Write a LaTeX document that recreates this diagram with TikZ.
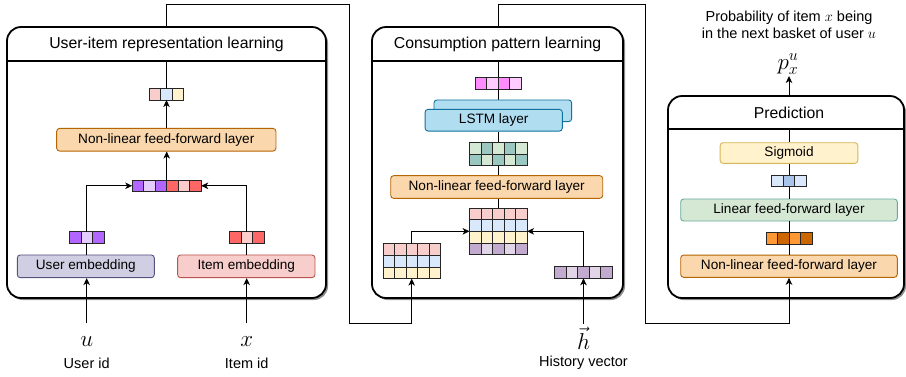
\RequirePackage{fix-cm}
\documentclass[tikz,border=0pt]{standalone}
\usepackage{fontspec}
\setmainfont{Liberation Sans}
\usetikzlibrary{arrows.meta,calc,shadows}

\definecolor{nlffF}{HTML}{FAD7AC}\definecolor{nlffD}{HTML}{B46504}
\definecolor{ueF}{HTML}{D0CEE2}\definecolor{ueD}{HTML}{56517E}
\definecolor{ieF}{HTML}{F8CECC}\definecolor{ieD}{HTML}{B85450}
\definecolor{lstmF}{HTML}{B1DDF0}\definecolor{lstmD}{HTML}{10739E}
\definecolor{sigF}{HTML}{FFF2CC}\definecolor{sigD}{HTML}{D6B656}
\definecolor{linF}{HTML}{D5E8D4}\definecolor{linD}{HTML}{67AB9F}
\definecolor{cpink}{HTML}{F8CECC}\definecolor{cblue}{HTML}{DAE8FC}
\definecolor{cyellow}{HTML}{FFF2CC}\definecolor{cblueM}{HTML}{A9C4EB}
\definecolor{cpurD}{HTML}{B266FF}\definecolor{cpurL}{HTML}{E5CCFF}
\definecolor{credD}{HTML}{FF6666}\definecolor{credL}{HTML}{FFCCCC}
\definecolor{cmagD}{HTML}{FF8CFF}\definecolor{cmagL}{HTML}{FFCCFF}
\definecolor{cgrL}{HTML}{D5E8D4}\definecolor{cgrD}{HTML}{9AC7BF}
\definecolor{cpD}{HTML}{C3ABD0}\definecolor{cpL}{HTML}{E1D5E7}
\definecolor{corL}{HTML}{FF9933}\definecolor{corD}{HTML}{CC6600}

\newcommand\myboxfont{\fontsize{13.6}{16.6}\selectfont}
\newcommand\mylblfont{\fontsize{14.5}{16.6}\selectfont}
\newcommand\mytitlefont{\fontsize{15.8}{18}\selectfont}
\newcommand\mymathfont{\fontsize{23}{25}\selectfont}
\def\cellw{11.5}
\def\cellh{11.6}

\tikzset{
  conn/.style={line width=0.9pt, draw=black},
  arr/.style={-{Stealth[length=7pt,width=6.5pt,inset=2pt]}},
  panelbox/.style={draw=black, line width=1.8pt, fill=white, rounded corners=14pt, inner sep=0pt,
    general shadow={fill=black!45, shadow xshift=2pt, shadow yshift=-2pt}},
  panelline/.style={draw=black, line width=1.8pt},
  layer/.style={draw, line width=0.9pt, rounded corners=3pt, inner sep=0pt, font=\myboxfont, text=black},
  cellbox/.style={draw=black!85, line width=0.8pt},
  lbl/.style={font=\mylblfont, inner sep=1pt},
  mlbl/.style={font=\mymathfont, inner sep=1pt},
}

\newcommand\cellgrid[5]{%
  \node[inner sep=0pt, outer sep=0pt, minimum width={#3*\cellw*1pt}, minimum height={#4*\cellh*1pt}] (#1) at #2 {};
  \foreach \cellcol [count=\cellk from 0] in {#5} {%
    \pgfmathtruncatemacro\cellr{div(\cellk,#3)}%
    \pgfmathtruncatemacro\cellc{mod(\cellk,#3)}%
    \draw[cellbox, fill=\cellcol] ($(#1.north west)+(\cellc*\cellw,\cellr*\cellh)$) rectangle ++(\cellw,\cellh);
  }%
}

\begin{document}
\begin{tikzpicture}[x=1pt,y=-1pt]
\useasboundingbox (0,0) rectangle (906,376);

% ---------- panels ----------
\node[panelbox, minimum width=319pt, minimum height=271pt] (LP) at (166.5,162.5) {};
\coordinate (LPs) at (0,61);
\draw[panelline] (LP.west |- LPs) -- (LP.east |- LPs);
\node[font=\mytitlefont] (LPt) at (166.5,44) {User-item representation learning};

\node[panelbox, minimum width=251pt, minimum height=271pt] (MP) at (497.5,162.5) {};
\coordinate (MPs) at (0,61);
\draw[panelline] (MP.west |- MPs) -- (MP.east |- MPs);
\node[font=\mytitlefont] (MPt) at (497.5,44) {Consumption pattern learning};

\node[panelbox, minimum width=236pt, minimum height=202pt] (RP) at (786,197) {};
\coordinate (RPs) at (0,129);
\draw[panelline] (RP.west |- RPs) -- (RP.east |- RPs);
\node[font=\mytitlefont] (RPt) at (789,112.5) {Prediction};

% ---------- left panel ----------
\cellgrid{ovL}{(166.5,94.2)}{3}{1}{cpink,cblue,cyellow}
\node[layer, draw=nlffD, fill=nlffF, minimum width=219.3pt, minimum height=22.7pt] (nlL) at (166.3,139.7) {Non-linear feed-forward layer};
\cellgrid{cat}{(166.7,185.8)}{6}{1}{cpurD,cpurL,cpurD,credD,credL,credD}
\cellgrid{uv}{(86.7,237.5)}{3}{1}{cpurD,cpurL,cpurD}
\cellgrid{iv}{(246.7,237.5)}{3}{1}{credD,credL,credD}
\node[layer, draw=ueD, fill=ueF, minimum width=137pt, minimum height=22.7pt] (ue) at (85.8,266.3) {User embedding};
\node[layer, draw=ieD, fill=ieF, minimum width=137.3pt, minimum height=22.7pt] (ie) at (246.3,266.3) {Item embedding};

\draw[conn] (ovL.north) -- (ovL.north |- LPs);
\draw[conn,arr] (ovL.south |- nlL.north) -- (ovL.south);
\draw[conn,arr] (cat.north) -- (cat.north |- nlL.south);
\draw[conn,arr] (uv.north) |- (cat.west);
\draw[conn,arr] (iv.north) |- (cat.east);
\draw[conn] (uv.south |- ue.north) -- (uv.south);
\draw[conn] (iv.south |- ie.north) -- (iv.south);

\node[mlbl] (u) at (86.7,342) {$u$};
\node[lbl] (uid) at (86.7,363) {User id};
\coordinate (uend) at (86.7,323);
\draw[conn,arr] (uend) -- (uend |- ue.south);
\node[mlbl] (x) at (246.7,342) {$x$};
\node[lbl] (iid) at (246.7,363) {Item id};
\coordinate (xend) at (246.7,323);
\draw[conn,arr] (xend) -- (xend |- ie.south);

% ---------- middle panel ----------
\cellgrid{pv}{(498.3,83.2)}{4}{1}{cmagD,cmagL,cmagD,cmagL}
\draw[conn] (pv.north) -- (pv.north |- MPs);
\draw[conn] (pv.south) -- (pv.south |- 0,100);
\node[layer, draw=lstmD, fill=lstmF, minimum width=137.7pt, minimum height=21.7pt] (lstmB) at (502.8,110.8) {};
\node[layer, draw=lstmD, fill=lstmF, minimum width=137.3pt, minimum height=21.7pt] (lstm) at (493.7,120.2) {LSTM layer};
\cellgrid{gm}{(498.3,154)}{5}{2}{cgrL,cgrD,cgrL,cgrD,cgrL,cgrD,cgrL,cgrD,cgrL,cgrD}
\node[layer, draw=nlffD, fill=nlffF, minimum width=212pt, minimum height=22.7pt] (nlM) at (496.7,187) {Non-linear feed-forward layer};
\cellgrid{sm}{(498.3,231.3)}{5}{4}{cpink,cpink,cpink,cpink,cpink,cblue,cblue,cblue,cblue,cblue,cyellow,cyellow,cyellow,cyellow,cyellow,cpD,cpL,cpD,cpL,cpD}
\cellgrid{lm}{(411.7,261.2)}{5}{3}{cpink,cpink,cpink,cpink,cpink,cblue,cblue,cblue,cblue,cblue,cyellow,cyellow,cyellow,cyellow,cyellow}
\cellgrid{hv}{(583.5,272.5)}{5}{1}{cpD,cpL,cpD,cpL,cpD}

\draw[conn] (gm.north |- lstm.south) -- (gm.north);
\draw[conn] (gm.south) -- (gm.south |- nlM.north);
\draw[conn] (sm.north |- nlM.south) -- (sm.north);
\draw[conn,arr] (lm.north) |- (sm.west);
\draw[conn,arr] (hv.north) |- (sm.east);

\node[mlbl, anchor=north, inner sep=0pt] (h) at (583.5,327) {$\vec{h}$};
\node[lbl] (hid) at (583.5,363) {History vector};
\coordinate (hend) at (583.5,324);
\draw[conn,arr] (hend) -- (hv.south);

% ---------- right panel ----------
\node[layer, draw=sigD, fill=sigF, minimum width=137.7pt, minimum height=20.6pt] (sig) at (789,153) {Sigmoid};
\cellgrid{bv}{(789,180.8)}{3}{1}{cblue,cblueM,cblue}
\node[layer, draw=linD, fill=linF, minimum width=216.6pt, minimum height=22pt] (lin) at (789,210) {Linear feed-forward layer};
\cellgrid{orv}{(789,238.2)}{4}{1}{corL,corD,corL,corD}
\node[layer, draw=nlffD, fill=nlffF, minimum width=216.6pt, minimum height=22.3pt] (nlR) at (789,266.2) {Non-linear feed-forward layer};

\draw[conn] (sig.north) -- (sig.north |- RPs);
\draw[conn] (sig.south) -- (bv.north);
\draw[conn] (bv.south) -- (lin.north);
\draw[conn] (lin.south) -- (orv.north);
\draw[conn] (orv.south) -- (nlR.north);

\node[mlbl, anchor=south] (p) at (788,76) {$p_x^u$};
\draw[conn,arr] (sig.north |- RP.north) -- (sig.north |- p.south);
\node[lbl, align=center] (ptext) at (789,25) {Probability of item $x$ being\\in the next basket of user $u$};

% ---------- connectors between panels ----------
\coordinate (c1) at (349,4.3);
\coordinate (c1b) at (349,323);
\draw[conn,arr] (ovL.north |- LP.north) |- (c1) -- (c1b) -| (lm.south);
\coordinate (c2) at (645,4.3);
\coordinate (c2b) at (645,323);
\draw[conn,arr] (pv.north |- MP.north) |- (c2) -- (c2b) -| (nlR.south);
\end{tikzpicture}
\end{document}
